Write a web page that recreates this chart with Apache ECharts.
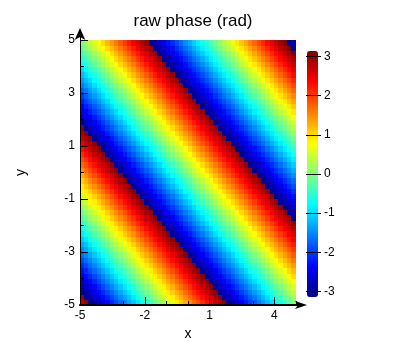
<!DOCTYPE html>
<html><head><meta charset="utf-8">
<script src="https://cdn.jsdelivr.net/npm/echarts@6/dist/echarts.min.js"></script>
<style>html,body{margin:0;padding:0;background:#fff}#c{width:396px;height:356px}</style>
</head><body><div id="c"></div>
<script>
// cell centres along x and y
const xCenters = [-4.9,-4.7,-4.5,-4.3,-4.1,-3.9,-3.7,-3.5,-3.3,-3.1,-2.9,-2.7,-2.5,-2.3,-2.1,-1.9,-1.7,-1.5,-1.3,-1.1,-0.9,-0.7,-0.5,-0.3,-0.1,0.1,0.3,0.5,0.7,0.9,1.1,1.3,1.5,1.7,1.9,2.1,2.3,2.5,2.7,2.9,3.1,3.3,3.5,3.7,3.9,4.1,4.3,4.5,4.7,4.9];
const yCenters = [-4.9,-4.7,-4.5,-4.3,-4.1,-3.9,-3.7,-3.5,-3.3,-3.1,-2.9,-2.7,-2.5,-2.3,-2.1,-1.9,-1.7,-1.5,-1.3,-1.1,-0.9,-0.7,-0.5,-0.3,-0.1,0.1,0.3,0.5,0.7,0.9,1.1,1.3,1.5,1.7,1.9,2.1,2.3,2.5,2.7,2.9,3.1,3.3,3.5,3.7,3.9,4.1,4.3,4.5,4.7,4.9];
// phase read along each anti-diagonal (cell column index + cell row index), rad
const phaseByDiag = [2.77,2.97,-3.12,-2.92,-2.72,-2.52,-2.32,-2.12,-1.92,-1.72,-1.52,-1.32,-1.12,-0.92,-0.72,-0.52,-0.32,-0.12,0.08,0.28,0.48,0.68,0.88,1.08,1.28,1.48,1.68,1.88,2.08,2.28,2.48,2.68,2.88,3.08,-3.0,-2.8,-2.6,-2.4,-2.2,-2.0,-1.8,-1.6,-1.4,-1.2,-1.0,-0.8,-0.6,-0.4,-0.2,0.0,0.2,0.4,0.6,0.8,1.0,1.2,1.4,1.6,1.8,2.0,2.2,2.4,2.6,2.8,3.0,-3.08,-2.88,-2.68,-2.48,-2.28,-2.08,-1.88,-1.68,-1.48,-1.28,-1.08,-0.88,-0.68,-0.48,-0.28,-0.08,0.12,0.32,0.52,0.72,0.92,1.12,1.32,1.52,1.72,1.92,2.12,2.32,2.52,2.72,2.92,3.12,-2.97,-2.77];
const xTickLabels = [-5,-2,1,4];
const xMinorTicks = [-4,-3,-1,0,2,3,5];
const yTickLabels = [-5,-3,-1,1,3,5];
const yMinorTicks = [-4,-2,0,2,4];
const cbTickLabels = [-3,-2,-1,0,1,2,3];
const jet = ['#00007f','#0000ff','#007fff','#00ffff','#7fff7f','#ffff00','#ff7f00','#ff0000','#7f0000'];

const cells = [];
for (let i = 0; i < xCenters.length; i++) {
  for (let j = 0; j < yCenters.length; j++) {
    cells.push([xCenters[i], yCenters[j], phaseByDiag[i + j]]);
  }
}
const halfW = (xCenters[1] - xCenters[0]) / 2;
const halfH = (yCenters[1] - yCenters[0]) / 2;
const FONT = 'Liberation Sans, Arial, sans-serif';

const chart = echarts.init(document.getElementById('c'), null, {renderer: 'canvas'});
chart.setOption({
  animation: false,
  backgroundColor: '#fff',
  title: {text: 'raw phase (rad)', left: 188, top: 8, textAlign: 'center',
    textStyle: {fontSize: 17, fontWeight: 'normal', color: '#000', fontFamily: FONT}},
  grid: [
    {left: 80, top: 40, width: 216, height: 265},
    {left: 80, top: 40, width: 216, height: 265},
    {left: 306, top: 51, width: 1, height: 246},
    {left: 80, top: 34, width: 221, height: 271}
  ],
  xAxis: [
    {gridIndex: 0, type: 'value', min: -5, max: 5, z: 10,
     name: 'x', nameLocation: 'middle', nameGap: 17,
     nameTextStyle: {fontSize: 14, color: '#000', fontFamily: FONT},
     axisLine: {show: false, onZero: false},
     axisTick: {show: true, inside: true, length: 8, customValues: xTickLabels, lineStyle: {color: '#000'}},
     axisLabel: {customValues: xTickLabels, color: '#000', fontSize: 12, margin: 5, fontFamily: FONT},
     splitLine: {show: false}},
    {gridIndex: 1, type: 'value', min: -5, max: 5, z: 10,
     axisLine: {show: false, onZero: false},
     axisTick: {show: true, inside: true, length: 4, customValues: xMinorTicks, lineStyle: {color: '#000'}},
     axisLabel: {show: false}, splitLine: {show: false}},
    {gridIndex: 2, type: 'value', show: false},
    {gridIndex: 3, type: 'value', min: -5, max: 5, z: 11,
     axisLine: {show: true, onZero: false, lineStyle: {color: '#000', width: 2}, symbol: ['none', 'arrow'], symbolSize: [6, 12], symbolOffset: [0, 6]},
     axisTick: {show: false}, axisLabel: {show: false}, splitLine: {show: false}}
  ],
  yAxis: [
    {gridIndex: 0, type: 'value', min: -5, max: 5, z: 10,
     name: 'y', nameLocation: 'middle', nameGap: 52, nameRotate: 90,
     nameTextStyle: {fontSize: 14, color: '#000', fontFamily: FONT},
     axisLine: {show: false, onZero: false},
     axisTick: {show: true, inside: true, length: 8, customValues: yTickLabels, lineStyle: {color: '#000'}},
     axisLabel: {customValues: yTickLabels, color: '#000', fontSize: 12, margin: 5, fontFamily: FONT},
     splitLine: {show: false}},
    {gridIndex: 1, type: 'value', min: -5, max: 5, z: 10,
     axisLine: {show: false, onZero: false},
     axisTick: {show: true, inside: true, length: 4, customValues: yMinorTicks, lineStyle: {color: '#000'}},
     axisLabel: {show: false}, splitLine: {show: false}},
    {gridIndex: 2, type: 'value', position: 'right', min: -Math.PI, max: Math.PI, z: 10,
     axisLine: {show: false},
     axisTick: {show: true, length: 15, customValues: cbTickLabels, lineStyle: {color: '#000'}},
     axisLabel: {customValues: cbTickLabels, color: '#000', fontSize: 12, margin: 17, fontFamily: FONT},
     splitLine: {show: false}},
    {gridIndex: 3, type: 'value', min: -5, max: 5, z: 11,
     axisLine: {show: true, onZero: false, lineStyle: {color: '#000', width: 1}, symbol: ['none', 'arrow'], symbolSize: [8, 12], symbolOffset: [0, 6]},
     axisTick: {show: false}, axisLabel: {show: false}, splitLine: {show: false}}
  ],
  visualMap: {
    type: 'continuous', min: -Math.PI, max: Math.PI, dimension: 2, seriesIndex: 0,
    inRange: {color: jet}, calculable: false, padding: 0,
    left: 307, top: 51, itemWidth: 11, itemHeight: 246, z: 4
  },
  series: [{
    type: 'custom', xAxisIndex: 0, yAxisIndex: 0, clip: true,
    data: cells,
    renderItem: function (params, api) {
      const x = api.value(0), y = api.value(1);
      const p0 = api.coord([x - halfW, y + halfH]);
      const p1 = api.coord([x + halfW, y - halfH]);
      const x0 = Math.floor(p0[0]), y0 = Math.floor(p0[1]);
      const x1 = Math.ceil(p1[0]), y1 = Math.ceil(p1[1]);
      return {type: 'rect', shape: {x: x0, y: y0, width: x1 - x0, height: y1 - y0},
              style: {fill: api.visual('color')}};
    }
  }]
});
</script></body></html>
